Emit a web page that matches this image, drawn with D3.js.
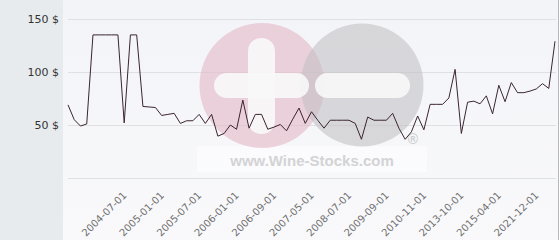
<!DOCTYPE html>
<html><head><meta charset="utf-8">
<script src="https://cdn.jsdelivr.net/npm/d3@7/dist/d3.min.js"></script>
<style>html,body{margin:0;padding:0;background:#fff;}svg{display:block;}</style>
</head><body>
<svg id="c" width="560" height="240"></svg>
<script>
const prices = [69,55,49,51,135,135,135,135,135,52,135,135,67.5,67,66.5,59,60,61,51.5,54,54,60,51.5,60,39.5,42,50,46,73.5,47,60,60,46,48,50.5,44.5,55.5,66,51.5,62.5,54.5,47,54.5,54.5,54.5,54.5,51.5,36.5,57.5,54.5,54.5,54.5,61,47,36.5,43.5,58.5,45.5,69.5,69.5,69.5,75.5,102.5,42,71.5,72.5,70,77.5,60.5,87.5,72,90,80.5,80.5,82,84,89,84.5,129];
const tickLabels = ["2004-07-01","2005-01-01","2005-07-01","2006-01-01","2006-09-01","2007-05-01","2008-07-01","2009-09-01","2010-11-01","2013-10-01","2015-04-01","2021-12-01"];
const tickIndex = [9,15,21,27,33,39,45,51,57,63,69,75];
const yTicks = [50,100,150];

const svg = d3.select("#c");
const W = 560, H = 240;
const defs = svg.append("defs");
const g1 = defs.append("linearGradient").attr("id","bg").attr("x1",0).attr("y1",0).attr("x2",0).attr("y2",1);
g1.append("stop").attr("offset","0%").attr("stop-color","#f3f4f8");
g1.append("stop").attr("offset","100%").attr("stop-color","#f9f9fb");

svg.append("rect").attr("x",0).attr("y",0).attr("width",W).attr("height",H).attr("fill","url(#bg)");
svg.append("rect").attr("x",0).attr("y",0).attr("width",63).attr("height",H).attr("fill","#e7ebee");
svg.append("rect").attr("x",558).attr("y",0).attr("width",2).attr("height",H).attr("fill","#ffffff");
svg.append("rect").attr("x",558).attr("y",0).attr("width",1).attr("height",H).attr("fill","#b8b8bc");

const x = d3.scalePoint().domain(d3.range(prices.length)).range([68,555]);
const y = d3.scaleLinear().domain([0,150]).range([178,19]);

// grid
const grid = svg.append("g");
grid.selectAll("line").data([0].concat(yTicks)).join("line")
  .attr("x1",68).attr("x2",556)
  .attr("y1",d=>Math.round(y(d))+0.5).attr("y2",d=>Math.round(y(d))+0.5)
  .attr("stroke","#dfe0e4").attr("stroke-width",1);

// y axis labels
const yAxis = d3.axisLeft(y).tickValues(yTicks).tickSize(0).tickPadding(0).tickFormat(d=>d+" $");
const ya = svg.append("g").attr("transform","translate(59,0)").call(yAxis);
ya.select(".domain").remove();
ya.selectAll("text").attr("font-family","DejaVu Sans").attr("font-size",11).attr("fill","#333").attr("dy","0.32em");

// watermark
const wm = svg.append("g");
wm.append("rect").attr("x",197).attr("y",146).attr("width",230).attr("height",26).attr("fill","#ffffff").attr("opacity",0.5);
wm.append("circle").attr("cx",262).attr("cy",85.5).attr("r",62.5).attr("fill","rgb(227,183,196)").attr("opacity",0.6);
wm.append("circle").attr("cx",362).attr("cy",85).attr("r",61.5).attr("fill","rgb(195,194,196)").attr("opacity",0.6);
wm.append("rect").attr("x",248).attr("y",38).attr("width",27).attr("height",96).attr("rx",13).attr("fill","#f7f7f9").attr("opacity",0.92);
wm.append("rect").attr("x",214).attr("y",73).attr("width",95).attr("height",25).attr("rx",12.5).attr("fill","#f7f7f9").attr("opacity",0.92);
wm.append("rect").attr("x",315).attr("y",73).attr("width",95).attr("height",25).attr("rx",12.5).attr("fill","#f7f7f9").attr("opacity",0.92);
wm.append("text").attr("x",312).attr("y",165.5).attr("text-anchor","middle")
  .attr("font-family","Liberation Sans").attr("font-weight","bold").attr("font-size",15)
  .attr("fill","#d3d3d5").text("www.Wine-Stocks.com");
wm.append("text").attr("x",413).attr("y",144).attr("text-anchor","middle")
  .attr("font-family","Liberation Sans").attr("font-weight","bold").attr("font-size",14)
  .attr("fill","#cfcfd1").text("®");

// line
const line = d3.line().x((d,i)=>x(i)).y(d=>y(d));
svg.append("path").datum(prices).attr("d",line).attr("fill","none")
  .attr("stroke","#3b2430").attr("stroke-width",1).attr("stroke-linejoin","round");

// x labels
const xl = svg.append("g");
xl.selectAll("text").data(tickLabels).join("text")
  .attr("transform",(d,i)=>`translate(${x(tickIndex[i])+3},196) rotate(-45)`)
  .attr("text-anchor","end")
  .attr("font-family","DejaVu Sans").attr("font-size",10).attr("fill","#707070")
  .text(d=>d);
</script>
</body></html>
